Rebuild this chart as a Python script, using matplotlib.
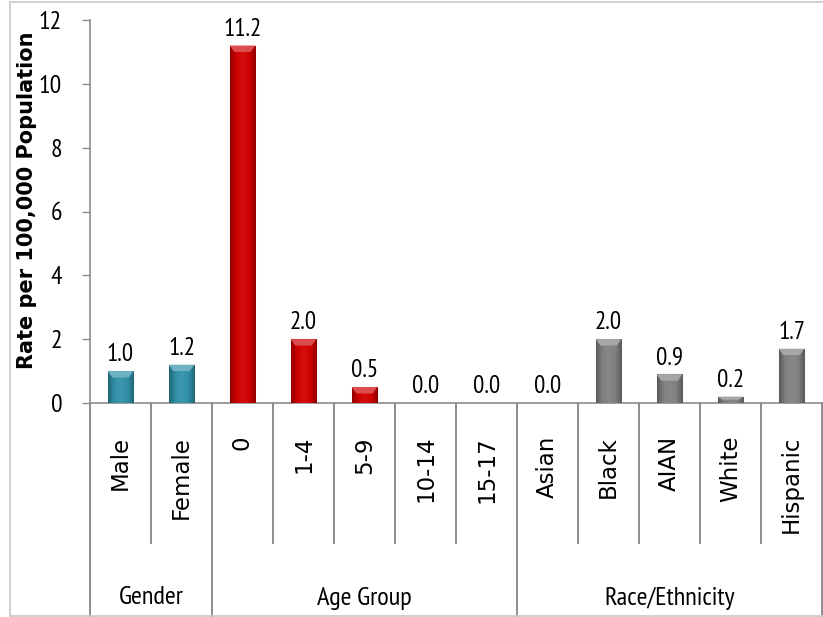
import matplotlib
matplotlib.use("Agg")
import matplotlib.pyplot as plt
import numpy as np
from matplotlib.colors import LinearSegmentedColormap, to_rgb
from matplotlib.lines import Line2D
from matplotlib.patches import Polygon
import matplotlib.transforms as mtransforms

# Data
categories = ["Male", "Female", "0", "1-4", "5-9", "10-14", "15-17",
              "Asian", "Black", "AIAN", "White", "Hispanic"]
rates = [1.0, 1.2, 11.2, 2.0, 0.5, 0.0, 0.0, 0.0, 2.0, 0.9, 0.2, 1.7]
groups = ["Gender", "Age Group", "Race/Ethnicity"]
group_sizes = [2, 5, 5]
group_colors = ["#3090A8", "#CF0000", "#808080"]
yticks = [0, 2, 4, 6, 8, 10, 12]
ylabel = "Rate per 100,000 Population"

NARROW = ["PT Sans Narrow", "Roboto Condensed", "DejaVu Sans"]
WIDE = ["DejaVu Sans"]

W, H = 823, 617
fig = plt.figure(figsize=(W / 100, H / 100), dpi=100)
fig.patch.set_facecolor("white")

def fy(px):
    return 1 - px / H

def fx(px):
    return px / W

ax = fig.add_axes([fx(90), fy(403), fx(822) - fx(90), fy(20) - fy(403)])
ax.set_xlim(-0.5, len(categories) - 0.5)
ax.set_ylim(0, 12)

# bar colours per category
bar_colors = []
for g, n in zip(group_colors, group_sizes):
    bar_colors += [g] * n

def shade(c, f):
    r = np.array(to_rgb(c))
    if f >= 0:
        return tuple(r + (1 - r) * f)
    return tuple(r * (1 + f))

xs = np.arange(len(categories))
bw = 0.42
bars = ax.bar(xs, rates, width=bw, color=bar_colors, zorder=2,
              edgecolor="#BFBFBF", linewidth=0.8)

# bevelled look: horizontal gradient and a lighter top facet
for rect, c, v in zip(bars, bar_colors, rates):
    if v <= 0:
        continue
    x0, w = rect.get_x(), rect.get_width()
    cmap = LinearSegmentedColormap.from_list(
        "b", [shade(c, -0.30), c, shade(c, 0.06), c, shade(c, -0.30)])
    grad = np.linspace(0, 1, 64)[None, :]
    im = ax.imshow(grad, cmap=cmap, aspect="auto",
                   extent=(x0, x0 + w, 0, v), zorder=3,
                   interpolation="bicubic")
    im.set_clip_path(rect)
    e = min(0.2, v / 2)
    d = w * 0.18
    top = Polygon([(x0, v), (x0 + w, v), (x0 + w - d, v - e), (x0 + d, v - e)],
                  closed=True, facecolor=shade(c, 0.30), edgecolor="none",
                  zorder=4)
    ax.add_patch(top)

# value labels
for x, v in zip(xs, rates):
    ax.annotate(f"{v:.1f}", (x, v), xytext=(0, 3.5),
                textcoords="offset points", ha="center", va="bottom",
                fontsize=18, family=NARROW, color="black")

# axes styling
for s in ["top", "right"]:
    ax.spines[s].set_visible(False)
for s in ["left", "bottom"]:
    ax.spines[s].set_color("#8C8C8C")
    ax.spines[s].set_linewidth(1.2)
ax.set_yticks(yticks)
ax.set_yticklabels([str(t) for t in yticks], family=NARROW, fontsize=18.5)
ax.tick_params(axis="y", direction="out", length=6, width=1,
               color="#8C8C8C", pad=14)
ax.set_xticks([])
fig.text(fx(27), fy(200), ylabel, rotation=90, ha="center", va="center",
         fontsize=15, fontweight="bold", family=WIDE)

# category axis: labels and separators below the plot
tr = mtransforms.blended_transform_factory(ax.transData, fig.transFigure)
for x, lab in zip(xs, categories):
    ax.text(x, fy(436), lab, rotation=90, ha="center", va="top",
            fontsize=16.5, family=WIDE, transform=tr)

bounds = np.concatenate([[0], np.cumsum(group_sizes)]) - 0.5
group_edges = set(bounds.tolist())
for b in np.arange(-0.5, len(categories), 1.0):
    bottom = fy(616) if b in group_edges else fy(543)
    ax.add_line(Line2D([b, b], [fy(403), bottom], transform=tr,
                       color="#8C8C8C", linewidth=1.4, clip_on=False))

for g, a, b in zip(groups, bounds[:-1], bounds[1:]):
    ax.text((a + b) / 2, fy(598), g, ha="center", va="center",
            fontsize=19, family=NARROW, transform=tr)

# outer chart frame
frame = dict(color="#C8C8C8", linewidth=1.2, transform=fig.transFigure)
fig.add_artist(Line2D([fx(10), fx(10)], [fy(2), fy(616)], **frame))
fig.add_artist(Line2D([fx(10), 1], [fy(2), fy(2)], **frame))
fig.add_artist(Line2D([fx(10), 1], [fy(616), fy(616)], **frame))

fig.savefig("out.png", dpi=100)
